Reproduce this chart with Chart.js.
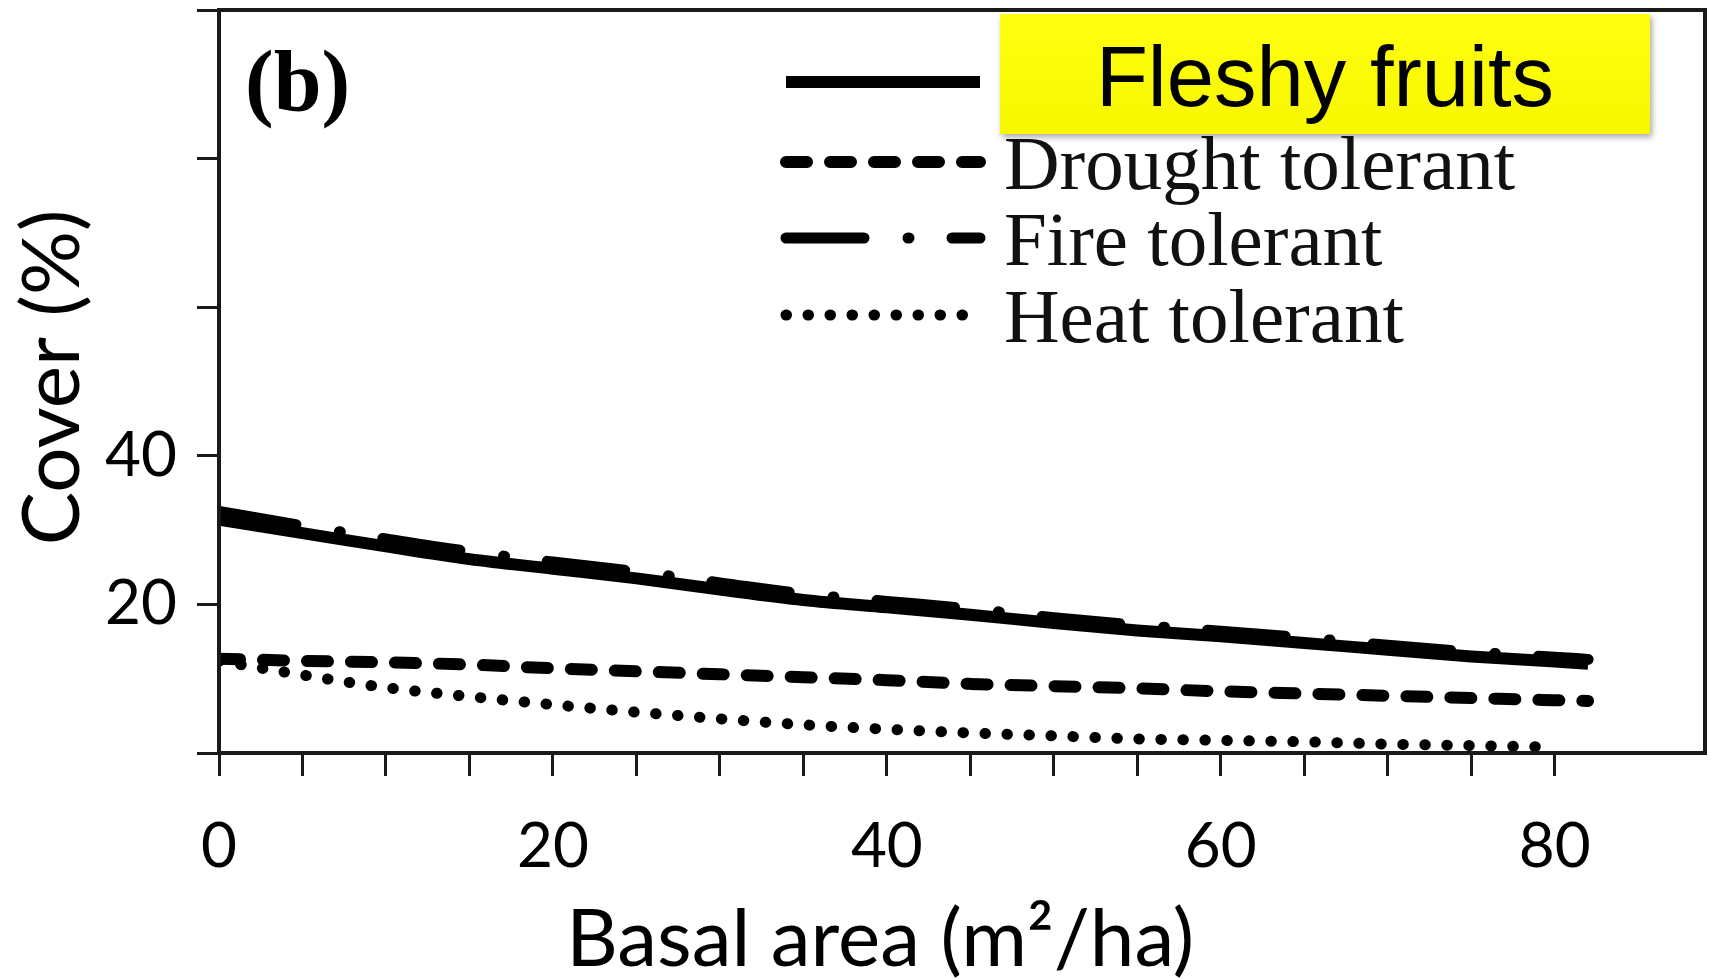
<!DOCTYPE html>
<html>
<head>
<meta charset="utf-8">
<script src="https://cdn.jsdelivr.net/npm/chart.js@4.4.0/dist/chart.umd.min.js"></script>
<style>
  html, body { margin: 0; padding: 0; background: #fff; }
  #wrap { width: 1711px; height: 979px; position: relative; }
</style>
</head>
<body>
<div id="wrap"><canvas id="cover-chart"></canvas></div>
<script>
// values (cover % against basal area)
const basalArea = [0, 5, 10, 15, 20, 25, 30, 35, 40, 45, 50, 55, 60, 65, 70, 75, 80, 82];
const fleshyFruits = [31.4, 29.6, 27.8, 26.1, 24.8, 23.5, 22.0, 20.6, 19.6, 18.6, 17.5, 16.5, 15.7, 14.8, 13.9, 13.0, 12.3, 12.0];
const droughtTolerant = [12.7, 12.4, 12.2, 11.9, 11.4, 11.0, 10.6, 10.2, 9.8, 9.3, 9.0, 8.7, 8.3, 8.0, 7.7, 7.4, 7.1, 7.0];
const fireTolerant = [32.5, 30.6, 28.8, 27.1, 25.7, 24.4, 22.9, 21.4, 20.4, 19.4, 18.2, 17.2, 16.4, 15.5, 14.5, 13.6, 12.9, 12.6];
const heatTolerant = [12.4, 10.5, 8.8, 7.6, 6.5, 5.5, 4.6, 3.8, 3.2, 2.7, 2.3, 1.9, 1.7, 1.5, 1.2, 1.0, 0.8, null];

const seriesLabels = ['Fleshy fruits', 'Drought tolerant', 'Fire tolerant', 'Heat tolerant'];
const xTickLabels = [0, 20, 40, 60, 80];
const yTickLabels = [20, 40];

const toPoints = (vals) => basalArea.map((x, i) => ({ x: x, y: vals[i] }));

const INK = '#1a1a1a';

// frame, legend, panel letter, highlighted label and axis titles
const decorations = {
  id: 'decorations',
  afterDatasetsDraw(chart) {
    const { ctx, chartArea, scales } = chart;
    ctx.save();

    // top/right frame
    ctx.strokeStyle = INK;
    ctx.lineWidth = 4;
    ctx.strokeRect(chartArea.left, chartArea.top, chartArea.right - chartArea.left, chartArea.bottom - chartArea.top);

    // panel letter
    ctx.fillStyle = '#000';
    ctx.font = 'bold 86px "Liberation Serif"';
    ctx.textAlign = 'left';
    ctx.textBaseline = 'alphabetic';
    ctx.fillText('(b)', 245, 110);

    // legend
    const rows = [82, 162, 238, 315];
    chart.data.datasets.forEach((ds, i) => {
      const y = rows[i];
      ctx.beginPath();
      ctx.setLineDash(ds.borderDash || []);
      ctx.lineDashOffset = 0;
      ctx.lineCap = ds.borderCapStyle || 'butt';
      ctx.lineWidth = ds.borderWidth;
      ctx.strokeStyle = ds.borderColor;
      ctx.moveTo(786, y);
      ctx.lineTo(980, y);
      ctx.stroke();
      ctx.setLineDash([]);
      if (i > 0) {
        ctx.fillStyle = '#111';
        ctx.font = '77px "Liberation Serif"';
        ctx.fillText(ds.label, 1004, y + 27);
      }
    });

    // yellow highlight over the first legend entry
    ctx.save();
    ctx.shadowColor = 'rgba(0,0,0,0.35)';
    ctx.shadowBlur = 6;
    ctx.shadowOffsetX = 2;
    ctx.shadowOffsetY = 3;
    const grad = ctx.createLinearGradient(0, 14, 0, 134);
    grad.addColorStop(0, '#ffff10');
    grad.addColorStop(1, '#f7f700');
    ctx.fillStyle = grad;
    ctx.fillRect(1000, 14, 650, 120);
    ctx.restore();
    ctx.fillStyle = '#000';
    ctx.font = '85px "Liberation Sans"';
    ctx.textAlign = 'center';
    ctx.fillText(seriesLabels[0], 1325, 106);

    // axis titles
    ctx.font = '80px Lato';
    ctx.fillStyle = '#000';
    ctx.textAlign = 'center';
    ctx.fillText('Basal area (m\u00B2/ha)', scales.x.getPixelForValue(39.6), 966);

    ctx.translate(79, (chartArea.top + chartArea.bottom) / 2 - 4);
    ctx.rotate(-Math.PI / 2);
    ctx.fillText('Cover (%)', 0, 0);

    ctx.restore();
  }
};

const container = document.getElementById('cover-chart').getContext('2d');

new Chart(container, {
  type: 'line',
  data: {
    datasets: [
      {
        label: seriesLabels[0],
        data: toPoints(fleshyFruits),
        borderColor: '#000',
        borderWidth: 12,
        borderCapStyle: 'butt',
      },
      {
        label: seriesLabels[1],
        data: toPoints(droughtTolerant),
        borderColor: '#000',
        borderWidth: 12,
        borderDash: [21, 23],
        borderCapStyle: 'round',
      },
      {
        label: seriesLabels[2],
        data: toPoints(fireTolerant),
        borderColor: '#000',
        borderWidth: 11,
        borderDash: [78, 44, 1, 43],
        borderCapStyle: 'round',
      },
      {
        label: seriesLabels[3],
        data: toPoints(heatTolerant),
        borderColor: '#000',
        borderWidth: 11,
        borderDash: [0.5, 21.5],
        borderCapStyle: 'round',
      },
    ]
  },
  options: {
    responsive: true,
    maintainAspectRatio: false,
    animation: false,
    layout: { padding: { top: 10, right: 6, left: 0, bottom: 0 } },
    elements: {
      point: { radius: 0 },
      line: { tension: 0.4, cubicInterpolationMode: 'monotone', borderJoinStyle: 'round' }
    },
    plugins: {
      legend: { display: false },
      tooltip: { enabled: false },
    },
    scales: {
      x: {
        type: 'linear',
        min: 0,
        max: 89,
        afterBuildTicks: s => { s.ticks = s.ticks.filter(t => t.value % 5 === 0); },
        afterFit: s => { s.height = 226; s.paddingLeft = 0; s.paddingRight = 0; },
        grid: { drawOnChartArea: false, drawTicks: true, tickLength: 23, tickWidth: 3, tickColor: INK },
        border: { display: true, color: INK, width: 4 },
        ticks: {
          stepSize: 5,
          autoSkip: false,
          maxRotation: 0,
          padding: 34,
          color: '#000',
          font: { family: 'Lato', size: 62 },
          callback: v => xTickLabels.includes(v) ? String(v) : ''
        }
      },
      y: {
        min: 0,
        max: 100,
        afterFit: s => { s.width = 219; s.paddingTop = 0; s.paddingBottom = 0; },
        grid: { drawOnChartArea: false, drawTicks: true, tickLength: 22, tickWidth: 3, tickColor: INK },
        border: { display: true, color: INK, width: 4 },
        ticks: {
          stepSize: 20,
          padding: 20,
          color: '#000',
          font: { family: 'Lato', size: 62 },
          callback: v => yTickLabels.includes(v) ? String(v) : ''
        }
      }
    }
  },
  plugins: [decorations]
});
</script>
</body>
</html>
